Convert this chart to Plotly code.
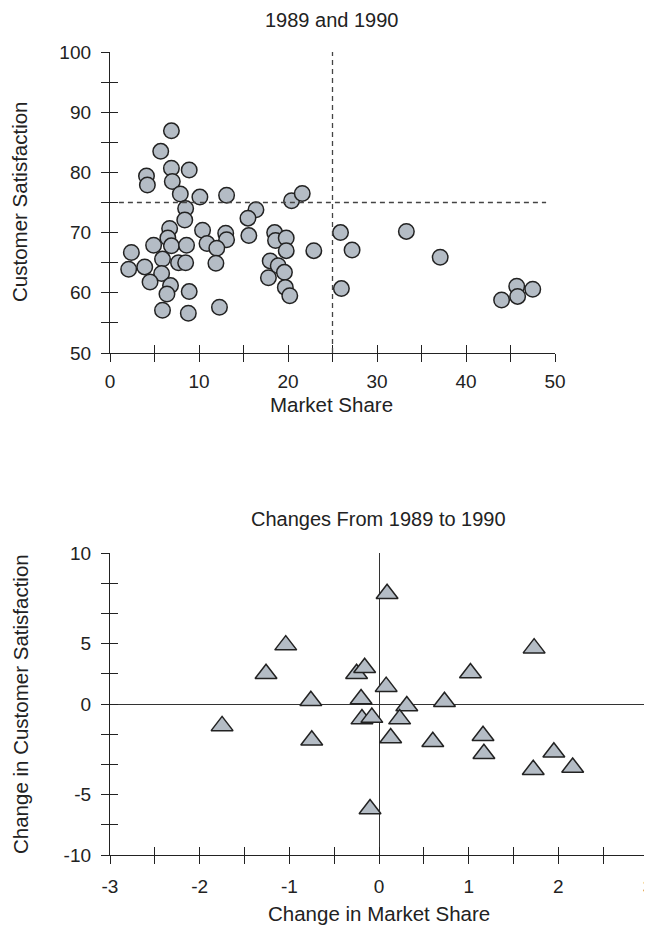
import plotly.graph_objects as go

# ---------------- data ----------------
# Top panel: 1989 and 1990 (market share vs customer satisfaction)
share = [6.9, 5.7, 6.9, 8.9, 4.1, 4.2, 7.0, 7.9, 10.1, 13.1, 8.5, 8.4, 20.4, 21.6,
         16.4, 15.5, 6.7, 6.5, 10.4, 13.0, 13.1, 10.9, 12.0, 15.6, 18.5, 18.6, 19.8,
         19.8, 22.9, 2.4, 4.9, 6.9, 8.6, 2.1, 3.9, 5.9, 5.8, 7.7, 8.5, 11.9, 4.5,
         6.8, 6.4, 8.9, 5.9, 8.8, 12.3, 18.0, 18.9, 19.6, 17.8, 19.7, 20.2, 25.9,
         27.2, 33.3, 37.1, 26.0, 44.0, 45.7, 45.8, 47.5]
satisfaction = [86.9, 83.5, 80.7, 80.4, 79.4, 77.9, 78.5, 76.4, 75.9, 76.2, 74.0, 72.1,
                75.3, 76.5, 73.8, 72.4, 70.7, 69.1, 70.4, 69.9, 68.8, 68.2, 67.4, 69.5,
                70.0, 68.7, 69.1, 67.0, 67.0, 66.7, 67.9, 67.8, 67.9, 63.9, 64.3, 65.6,
                63.2, 65.0, 65.0, 64.9, 61.8, 61.2, 59.8, 60.2, 57.1, 56.6, 57.6, 65.3,
                64.5, 63.4, 62.5, 60.9, 59.5, 70.0, 67.1, 70.2, 65.9, 60.7, 58.8, 61.1,
                59.4, 60.6]
share_cutoff = 25
satisfaction_cutoff = 75

# Bottom panel: changes from 1989 to 1990
d_share = [-1.75, -1.26, -1.04, -0.76, -0.75, -0.25, -0.16, -0.20, -0.19, -0.08, -0.10,
           0.09, 0.08, 0.31, 0.23, 0.13, 0.60, 0.73, 1.02, 1.16, 1.17, 1.73, 1.95,
           1.72, 2.16]
d_satisfaction = [-1.45, 2.0, 3.9, 0.22, -2.4, 2.0, 2.4, 0.33, -1.0, -0.9, -6.95,
                  7.3, 1.15, -0.13, -1.0, -2.25, -2.5, 0.15, 2.05, -2.1, -3.3, 3.7, -3.2,
                  -4.35, -4.2]

# tick labels
top_x_ticks = list(range(0, 55, 5))
top_x_labels = [str(v) if v % 10 == 0 else "" for v in top_x_ticks]
top_y_ticks = list(range(50, 105, 5))
top_y_labels = [str(v) if v % 10 == 0 else "" for v in top_y_ticks]
bot_x_ticks = [v / 2 for v in range(-6, 7)]
bot_x_labels = [str(int(v)) if v == int(v) else "" for v in bot_x_ticks]
bot_y_ticks = list(range(-10, 12, 2))
bot_y_label_map = {10: "10", 4: "5", 0: "0", -6: "-5", -10: "-10"}  # as printed
bot_y_labels = [bot_y_label_map.get(v, "") for v in bot_y_ticks]

# ---------------- style ----------------
PAGE_OFFSET = 8            # default body margin of the html page
W, H = 652 - PAGE_OFFSET, 940 - 2 * PAGE_OFFSET
FONT = "Liberation Sans, Arial, Helvetica, sans-serif"
INK = "#222222"
FILL = "#b4bcc5"
FS = 19
FS_TITLE = 20
FS_AXIS_TITLE = 20.5


def px_x(p):
    return (p - PAGE_OFFSET) / W


def px_y(p):
    return 1 - (p - PAGE_OFFSET) / H


top_xdom = [px_x(110), px_x(555)]
top_ydom = [px_y(353), px_y(52)]
bot_xdom = [px_x(110), px_x(648)]
bot_ydom = [px_y(855), px_y(553)]

fig = go.Figure()

fig.add_trace(go.Scatter(
    x=share, y=satisfaction, mode="markers", xaxis="x", yaxis="y",
    marker=dict(symbol="circle", size=15.5, color=FILL, line=dict(color=INK, width=1.5)),
    cliponaxis=False, showlegend=False))

fig.add_trace(go.Scatter(
    x=d_share, y=d_satisfaction, mode="markers", xaxis="x2", yaxis="y2",
    marker=dict(symbol="triangle-up", size=19, color=FILL, line=dict(color=INK, width=1.5)),
    cliponaxis=False, showlegend=False))

# empty traces to instantiate the overlay axes (inside half of crossing ticks)
fig.add_trace(go.Scatter(x=[], y=[], xaxis="x3", yaxis="y3", showlegend=False))
fig.add_trace(go.Scatter(x=[], y=[], xaxis="x4", yaxis="y4", showlegend=False))


def axis(domain, rng, anchor, tickvals, ticktext, ticks="outside", labels=True,
         line=True, zeroline=False, overlaying=None, standoff=0):
    d = dict(domain=domain, range=rng, anchor=anchor, tickmode="array",
             tickvals=tickvals, ticktext=ticktext, ticks=ticks, ticklen=8,
             tickwidth=1.3, tickcolor=INK, showticklabels=labels,
             showline=line, linecolor=INK, linewidth=1.3, showgrid=False,
             zeroline=zeroline, zerolinecolor="#333333", zerolinewidth=1.2,
             automargin=False, fixedrange=True, ticklabelstandoff=standoff,
             ticklabeloverflow="allow",
             tickfont=dict(family=FONT, size=FS, color=INK))
    if overlaying:
        d["overlaying"] = overlaying
    return d


fig.update_layout(
    width=W, height=H, margin=dict(l=0, r=0, t=0, b=0),
    paper_bgcolor="white", plot_bgcolor="rgba(0,0,0,0)",
    template="none", showlegend=False,
    font=dict(family=FONT, size=FS, color=INK),
    xaxis=axis(top_xdom, [0, 50], "y", top_x_ticks, top_x_labels, standoff=3),
    yaxis=axis(top_ydom, [50, 100], "x", top_y_ticks, top_y_labels, standoff=6),
    xaxis3=axis(top_xdom, [0, 50], "y", top_x_ticks, top_x_labels, ticks="inside",
                labels=False, line=False, overlaying="x"),
    yaxis3=axis(top_ydom, [50, 100], "x", top_y_ticks, top_y_labels, ticks="inside",
                labels=False, line=False, overlaying="y"),
    xaxis2=axis(bot_xdom, [-3, 3], "y2", bot_x_ticks, bot_x_labels, zeroline=True,
                standoff=6),
    yaxis2=axis(bot_ydom, [-10, 10], "x2", bot_y_ticks, bot_y_labels, zeroline=True,
                standoff=6),
    xaxis4=axis(bot_xdom, [-3, 3], "y2", bot_x_ticks, bot_x_labels, ticks="inside",
                labels=False, line=False, overlaying="x2"),
    yaxis4=axis(bot_ydom, [-10, 10], "x2", bot_y_ticks, bot_y_labels, ticks="inside",
                labels=False, line=False, overlaying="y2"),
)

# reference (quadrant) lines in the top panel
fig.add_shape(type="line", xref="x", yref="y", x0=1, x1=49,
              y0=satisfaction_cutoff, y1=satisfaction_cutoff,
              line=dict(color="#444444", width=1.3, dash="5px,4px"))
fig.add_shape(type="line", xref="x", yref="y", x0=share_cutoff, x1=share_cutoff,
              y0=50, y1=100, line=dict(color="#444444", width=1.3, dash="5px,4px"))


def label(text, x, y, angle=0, size=FS_AXIS_TITLE):
    fig.add_annotation(text=text, xref="paper", yref="paper", x=px_x(x), y=px_y(y),
                       xanchor="center", yanchor="middle", showarrow=False,
                       textangle=angle, font=dict(family=FONT, size=size, color=INK))


label("1989 and 1990", 332, 20, size=FS_TITLE)
label("Market Share", 332, 405)
label("Customer Satisfaction", 20, 202, -90)
label("Changes From 1989 to 1990", 378, 519, size=FS_TITLE)
label("Change in Market Share", 379, 913)
label("Change in Customer Satisfaction", 20, 704, -90)

fig.write_html("out.html")
